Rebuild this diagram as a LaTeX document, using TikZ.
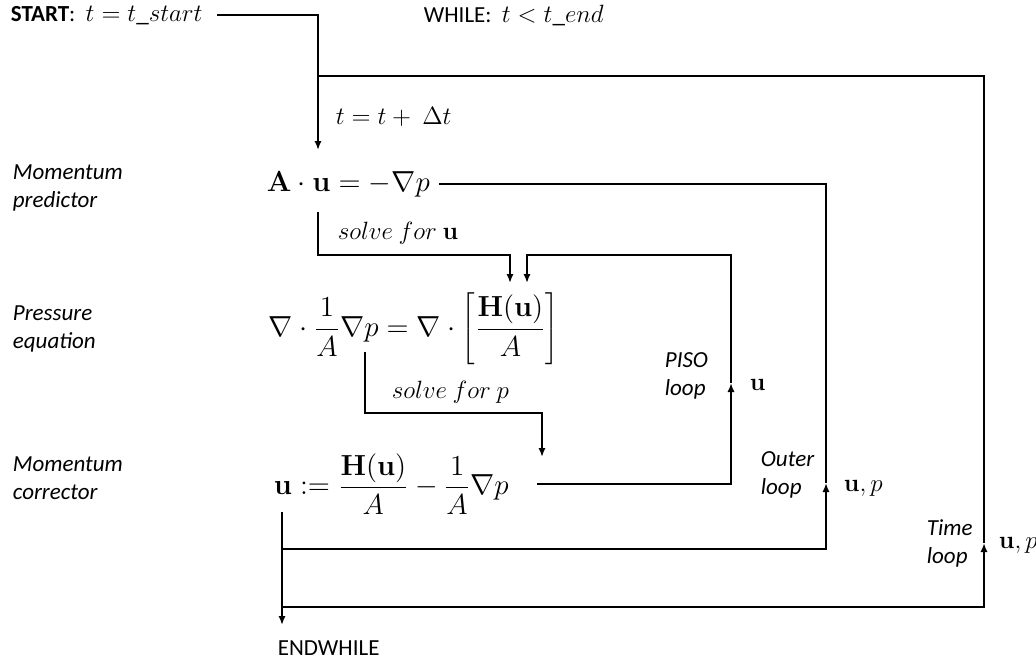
\RequirePackage{fix-cm}
\documentclass[tikz,border=0pt]{standalone}
\usepackage[no-math]{fontspec}
\setmainfont{Carlito}
\usetikzlibrary{positioning, arrows.meta}

\newcommand{\tmath}[1]{{\fontsize{12.5}{15}\selectfont$#1$}}

\begin{document}
\begin{tikzpicture}[
  x=0.5pt, y=-0.5pt,
  line width=0.9pt,
  font=\fontsize{11.5}{14}\selectfont,
  arr/.style={-{Latex[length=4.5pt,width=3.6pt]}},
  plain/.style={anchor=west, inner sep=0pt},
  stage/.style={plain, align=left, font=\fontsize{11.5}{14}\selectfont\itshape},
  loopname/.style={stage},
  eqn/.style={plain, font=\fontsize{14.5}{17}\selectfont},
  tm/.style={plain, font=\fontsize{12.5}{15}\selectfont}
]
  \useasboundingbox (0,0) rectangle (1036,661);

  % stage names on the left
  \node[stage] (lpred)  at (12,188) {Momentum\\predictor};
  \node[stage] (lpress) at (12,329) {Pressure\\equation};
  \node[stage] (lcorr)  at (12,478) {Momentum\\corrector};

  % time stepping
  \node[plain] (start) at (10,15) {\textbf{START}:\ \ \tmath{t = t\_start}};
  \node[plain] (while) at (423,15) {WHILE:\ \ \tmath{t < t\_end}};
  \node[tm] (tstep) at (335,117) {$t = t +\ \Delta t$};

  % equations
  \node[eqn] (pred)  at (266,184) {$\mathbf{A}\cdot\mathbf{u} = -\nabla p$};
  \node[eqn] (press) at (268,329) {$\displaystyle \nabla\cdot\frac{1}{A}\nabla p = \nabla\cdot\left[\frac{\mathbf{H}(\mathbf{u})}{A}\right]$};
  \node[eqn] (corr)  at (273,484) {$\displaystyle \mathbf{u} := \frac{\mathbf{H}(\mathbf{u})}{A} - \frac{1}{A}\nabla p$};

  % annotations
  \node[tm] (solveu) at (337,233) {$solve\ for\ \mathbf{u}$};
  \node[tm] (solvep) at (391,392) {$solve\ for\ p$};
  \node[loopname] (piso)  at (664,376) {PISO\\loop};
  \node[tm] (upiso)  at (749,385) {$\mathbf{u}$};
  \node[loopname] (outer) at (760,475) {Outer\\loop};
  \node[tm] (uouter) at (843,488) {$\mathbf{u}, p$};
  \node[loopname] (time)  at (926,543) {Time\\loop};
  \node[tm] (utime)  at (998,545) {$\mathbf{u}, p$};
  \node[plain] (endwhile) at (277,648) {ENDWHILE};

  % corners and ends
  \coordinate (tin)     at (318,150);
  \coordinate (tjoin)   at (318,76);
  \coordinate (su)      at (318,212);
  \coordinate (subend)  at (318,255);
  \coordinate (suin)    at (510,283);
  \coordinate (pisoin)  at (527,283);
  \coordinate (pisotop) at (731,255);
  \coordinate (pisoup)  at (731,383);
  \coordinate (sp)      at (365,352);
  \coordinate (spbend)  at (365,413);
  \coordinate (spin)    at (542,457);
  \coordinate (outerup) at (826,483);
  \coordinate (timeup)  at (984,543);
  \coordinate (exit)    at (282,512);
  \coordinate (ob)      at (282,549);
  \coordinate (tb)      at (282,607);
  \coordinate (endin)   at (282,625);

  % connectors
  \draw[arr] ([xshift=7pt]start.east) -| (tin);
  \draw[arr] (su) -- (subend) -| (suin);
  \draw[arr] (sp) -- (spbend) -| (spin);
  \draw[arr] ([xshift=14pt]corr.east) -| (pisoup);
  \draw[arr] (pisoup) -- (pisotop) -| (pisoin);
  \draw[arr] (ob) -| (outerup);
  \draw (outerup) |- ([xshift=4pt]pred.east);
  \draw[arr] (tb) -| (timeup);
  \draw (timeup) |- (tjoin);
  \draw[arr] (exit) -- (endin);
\end{tikzpicture}
\end{document}
